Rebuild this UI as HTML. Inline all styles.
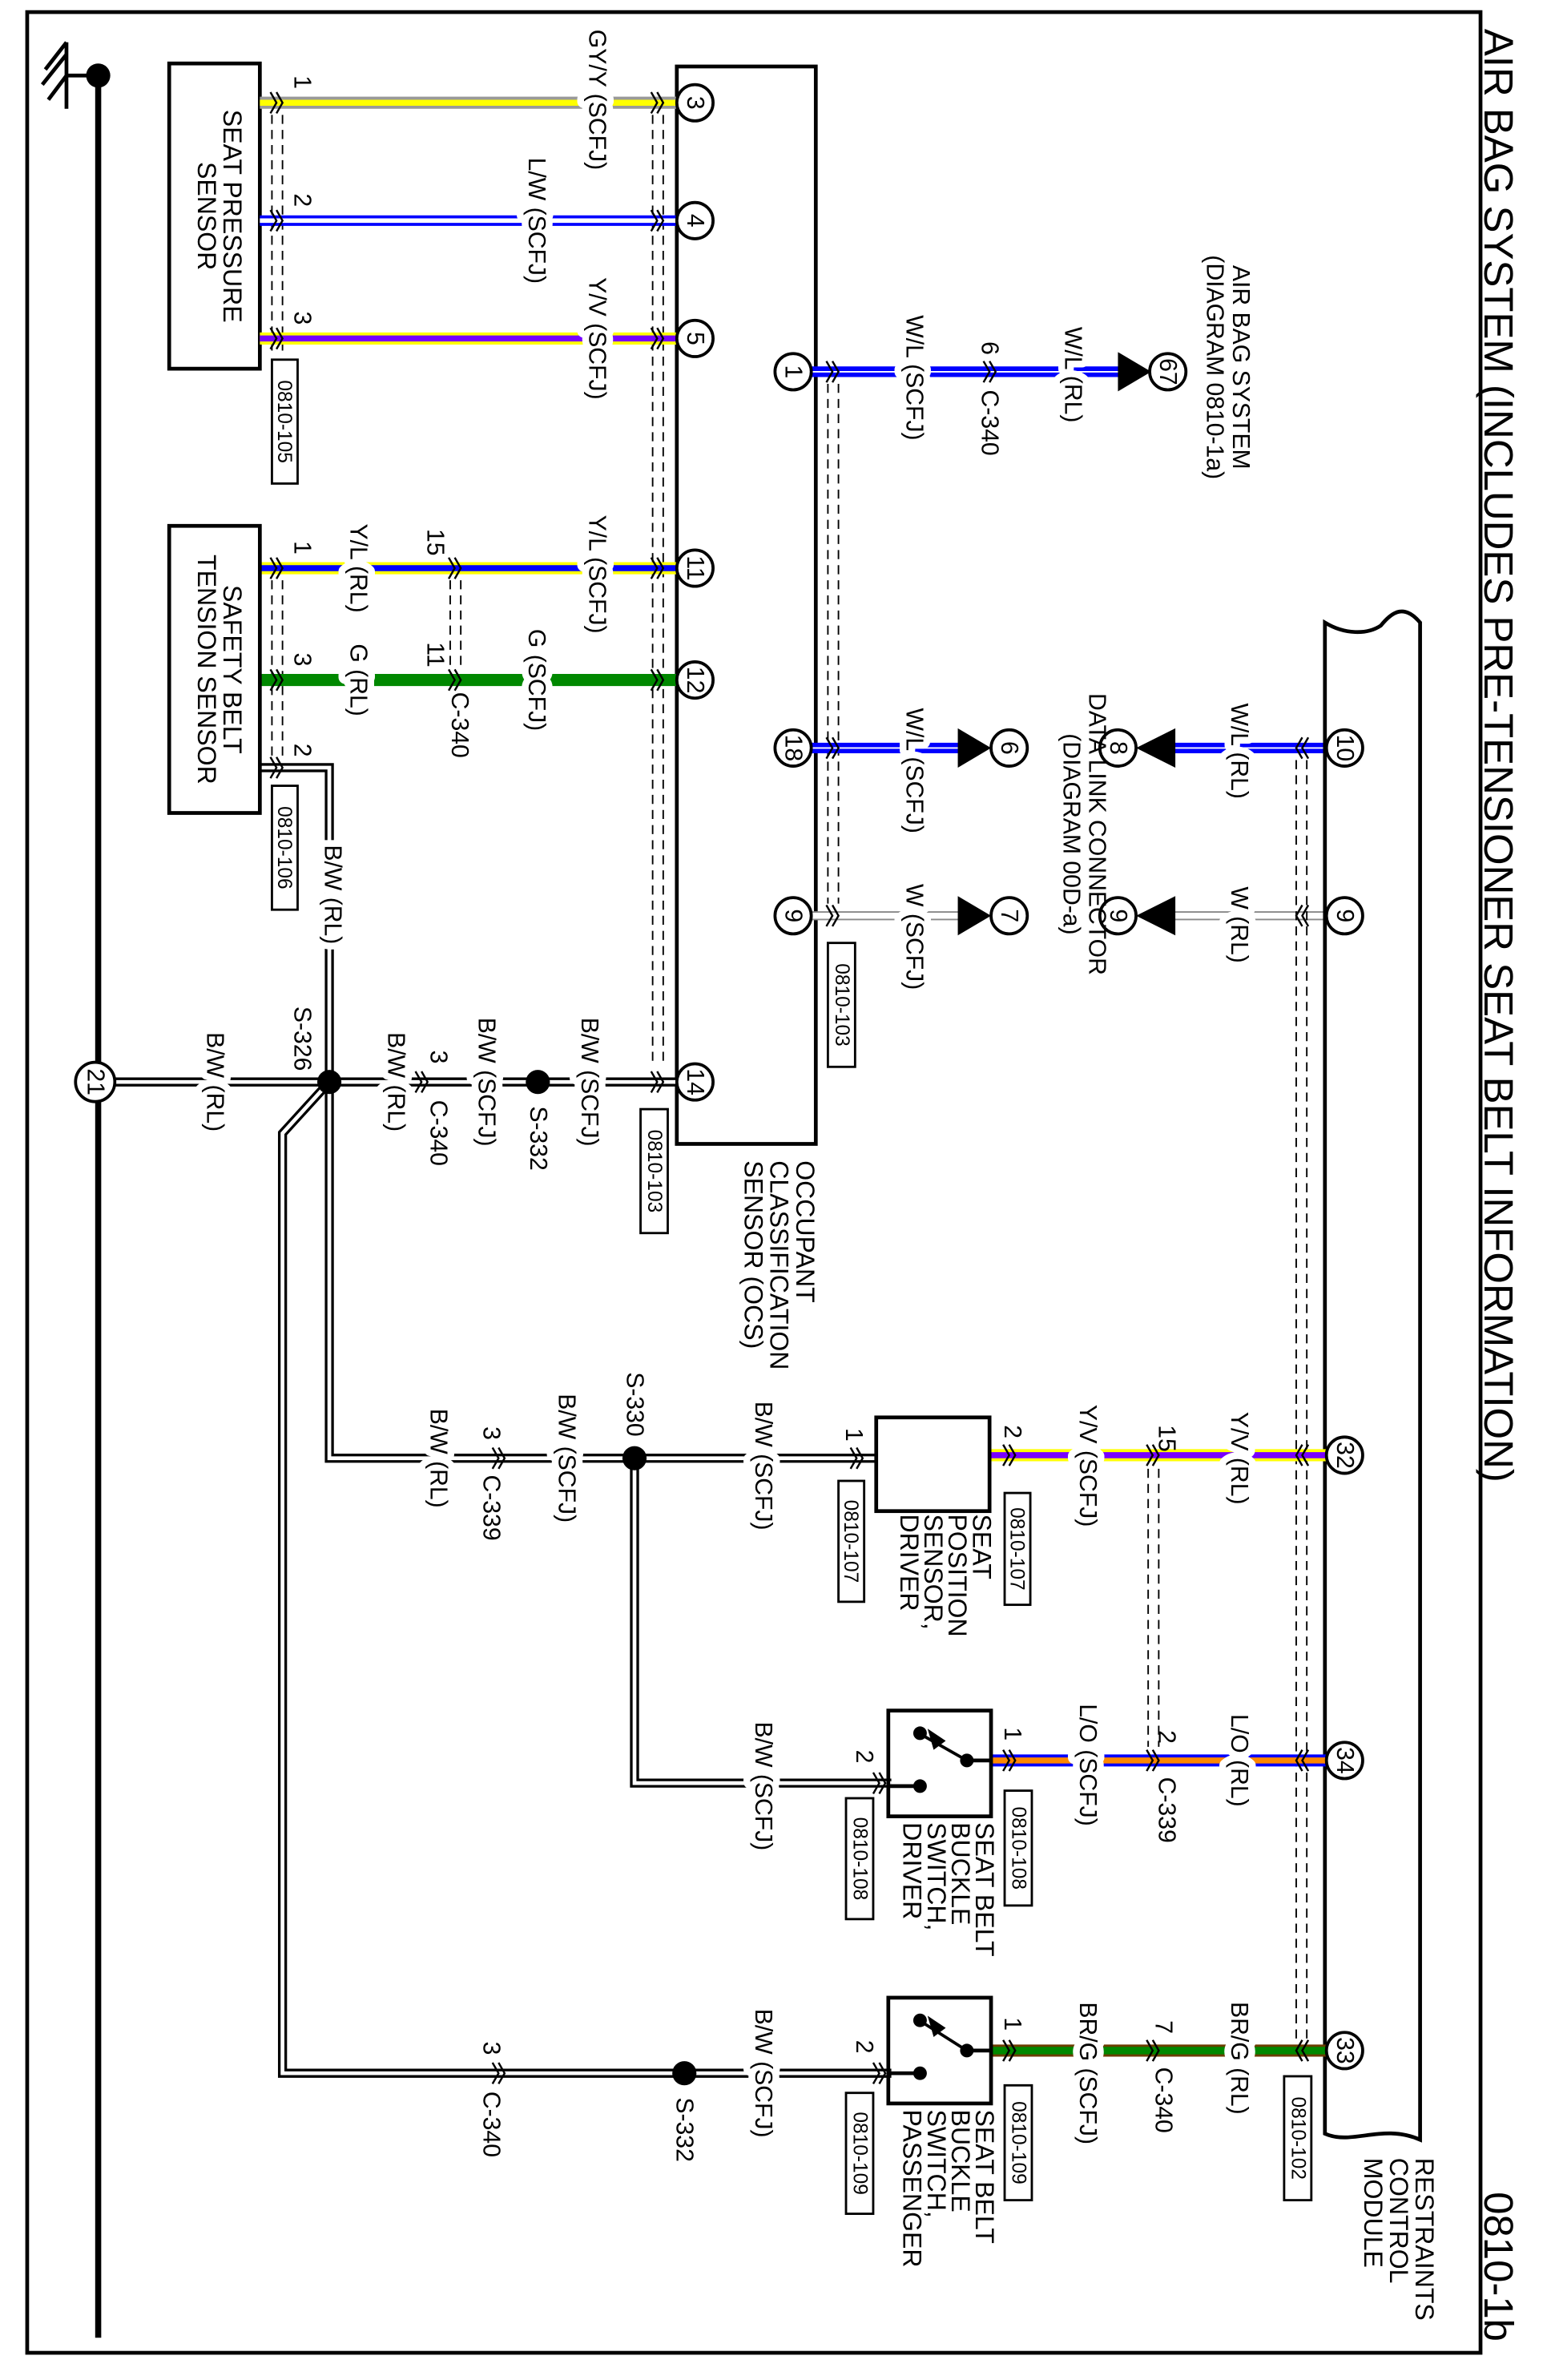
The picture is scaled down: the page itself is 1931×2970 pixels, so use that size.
<!DOCTYPE html>
<html><head><meta charset="utf-8"><style>
html,body{margin:0;padding:0;background:#fff}
svg{display:block}
text{font-family:"Liberation Sans",Arial,sans-serif;font-size:16px;fill:#000;paint-order:stroke;stroke:#fff;stroke-width:9px;stroke-linejoin:round}
.t{font-size:27px}
.c{font-size:13px;stroke:none}
.bx{fill:none;stroke:#000;stroke-width:2.5}
.sh{stroke:#000;stroke-width:1;stroke-dasharray:6,4;fill:none}
.ch{fill:none;stroke:#000;stroke-width:1.3}
</style></head><body>
<svg width="1931" height="2970" viewBox="0 0 1024 1575" preserveAspectRatio="none" xmlns="http://www.w3.org/2000/svg">
<defs>
<g id="cx"><polyline class="ch" points="-4,-7 0,0 -4,7"/><polyline class="ch" points="0,-7 4,0 0,7"/></g>
<g id="cxl"><polyline class="ch" points="4,-7 0,0 4,7"/><polyline class="ch" points="0,-7 -4,0 0,7"/></g>
</defs>
<rect x="18" y="8" width="962" height="1549" fill="none" stroke="#000" stroke-width="2.5"/>
<text class="t" transform="translate(992,500) rotate(90)" text-anchor="middle" dominant-baseline="central" style="stroke:none">AIR BAG SYSTEM (INCLUDES PRE-TENSIONER SEAT BELT INFORMATION)</text>
<text class="t" transform="translate(992,1500) rotate(90)" text-anchor="middle" dominant-baseline="central" style="stroke:none">0810-1b</text>

<line x1="65" y1="50" x2="65" y2="1547" stroke="#000" stroke-width="4"/>
<line x1="44" y1="50" x2="65" y2="50" stroke="#000" stroke-width="2.5"/>
<circle cx="65" cy="50" r="8"/>
<line x1="44" y1="28" x2="44" y2="72" stroke="#000" stroke-width="2.5"/>
<line x1="44" y1="36" x2="28" y2="56" stroke="#000" stroke-width="2.5"/>
<line x1="44" y1="50" x2="32" y2="66" stroke="#000" stroke-width="2.5"/>
<line x1="44" y1="28" x2="30" y2="46" stroke="#000" stroke-width="2.5"/>

<rect class="bx" x="112" y="42" width="60" height="202"/>
<text style="stroke:none;font-size:17px" transform="translate(142,143) rotate(90)" text-anchor="middle"><tspan x="0" y="-6">SEAT PRESSURE</tspan><tspan x="0" y="11">SENSOR</tspan></text>
<rect class="bx" style="stroke-width:1.5" x="180" y="238" width="17" height="82"/>
<text class="c" transform="translate(188,279) rotate(90)" text-anchor="middle" dominant-baseline="central">0810-105</text>

<rect class="bx" x="448" y="44" width="92" height="713"/>
<text style="stroke:none;font-size:17px" transform="translate(505,768) rotate(90)"><tspan x="0" y="-22">OCCUPANT</tspan><tspan x="0" y="-5">CLASSIFICATION</tspan><tspan x="0" y="12">SENSOR (OCS)</tspan></text>
<line class="sh" x1="432" y1="76" x2="432" y2="706"/><line class="sh" x1="439" y1="76" x2="439" y2="706"/>
<line class="sh" x1="180" y1="76" x2="180" y2="234"/><line class="sh" x1="187" y1="76" x2="187" y2="234"/>
<line class="sh" x1="180" y1="384" x2="180" y2="500"/><line class="sh" x1="187" y1="384" x2="187" y2="500"/>
<line class="sh" x1="298" y1="384" x2="298" y2="443"/><line class="sh" x1="305" y1="384" x2="305" y2="443"/>
<line class="sh" x1="548" y1="254" x2="548" y2="598"/><line class="sh" x1="555" y1="254" x2="555" y2="598"/>
<rect class="bx" style="stroke-width:1.5" x="548" y="624" width="18" height="82"/>
<text class="c" transform="translate(557,665) rotate(90)" text-anchor="middle" dominant-baseline="central">0810-103</text>
<rect class="bx" style="stroke-width:1.5" x="424" y="734" width="18" height="82"/>
<text class="c" transform="translate(433,775) rotate(90)" text-anchor="middle" dominant-baseline="central">0810-103</text>

<line x1="172" y1="68" x2="448" y2="68" stroke="#999" stroke-width="8"/><line x1="172" y1="68" x2="448" y2="68" stroke="#ff0" stroke-width="4"/>
<line x1="172" y1="146" x2="448" y2="146" stroke="#00f" stroke-width="7"/><line x1="172" y1="146" x2="448" y2="146" stroke="#fff" stroke-width="3"/>
<line x1="172" y1="224" x2="448" y2="224" stroke="#ff0" stroke-width="8"/><line x1="172" y1="224" x2="448" y2="224" stroke="#70f" stroke-width="4"/>
<line x1="172" y1="376" x2="448" y2="376" stroke="#ff0" stroke-width="8"/><line x1="172" y1="376" x2="448" y2="376" stroke="#00f" stroke-width="4"/>
<line x1="172" y1="450" x2="448" y2="450" stroke="#080" stroke-width="8"/>
<g fill="none" stroke-linejoin="miter">
<path d="M172,508 H218 V965 H580" stroke="#000" stroke-width="6"/>
<path d="M172,508 H218 V965 H580" stroke="#fff" stroke-width="2.5"/>
<path d="M63,716 H448" stroke="#000" stroke-width="6"/><path d="M63,716 H448" stroke="#fff" stroke-width="2.5"/>
<path d="M218,716 L187,750 V1372 H590" stroke="#000" stroke-width="6"/><path d="M218,716 L187,750 V1372 H590" stroke="#fff" stroke-width="2.5"/>
<path d="M420,965 V1180 H590" stroke="#000" stroke-width="6"/><path d="M420,965 V1180 H590" stroke="#fff" stroke-width="2.5"/>
</g>
<circle cx="218" cy="716" r="8"/><circle cx="356" cy="716" r="8"/><circle cx="420" cy="965" r="8"/><circle cx="453" cy="1372" r="8"/>

<line x1="536" y1="246" x2="748" y2="246" stroke="#00f" stroke-width="7"/><line x1="536" y1="246" x2="748" y2="246" stroke="#fff" stroke-width="1"/>
<line x1="536" y1="495" x2="640" y2="495" stroke="#00f" stroke-width="7"/><line x1="536" y1="495" x2="640" y2="495" stroke="#fff" stroke-width="1"/>
<line x1="775" y1="495" x2="878" y2="495" stroke="#00f" stroke-width="7"/><line x1="775" y1="495" x2="878" y2="495" stroke="#fff" stroke-width="1"/>
<line x1="536" y1="606" x2="640" y2="606" stroke="#888" stroke-width="6"/><line x1="536" y1="606" x2="640" y2="606" stroke="#fff" stroke-width="4"/>
<line x1="775" y1="606" x2="878" y2="606" stroke="#888" stroke-width="6"/><line x1="775" y1="606" x2="878" y2="606" stroke="#fff" stroke-width="4"/>
<polygon points="740,233 740,259 762,246"/><polygon points="634,482 634,508 656,495"/><polygon points="634,593 634,619 656,606"/>
<polygon points="778,482 778,508 752,495"/><polygon points="778,593 778,619 752,606"/>

<path class="bx" d="M877,418 V1412 C895,1420 915,1405 940,1416 V412 C930,400 922,404 914,414 C905,420 890,420 877,412 Z"/>
<text style="stroke:none;font-size:17px" transform="translate(915,1428) rotate(90)"><tspan x="0" y="-22">RESTRAINTS</tspan><tspan x="0" y="-5">CONTROL</tspan><tspan x="0" y="12">MODULE</tspan></text>
<line class="sh" x1="858" y1="503" x2="858" y2="1350"/><line class="sh" x1="865" y1="503" x2="865" y2="1350"/>
<line class="sh" x1="760" y1="972" x2="760" y2="1156"/><line class="sh" x1="767" y1="972" x2="767" y2="1156"/>
<rect class="bx" style="stroke-width:1.5" x="850" y="1374" width="18" height="82"/>
<text class="c" transform="translate(859,1415) rotate(90)" text-anchor="middle" dominant-baseline="central">0810-102</text>

<line x1="655" y1="963" x2="878" y2="963" stroke="#ff0" stroke-width="8"/><line x1="655" y1="963" x2="878" y2="963" stroke="#70f" stroke-width="4"/>
<line x1="656" y1="1165" x2="878" y2="1165" stroke="#00f" stroke-width="8"/><line x1="656" y1="1165" x2="878" y2="1165" stroke="#f80" stroke-width="4"/>
<line x1="656" y1="1357" x2="878" y2="1357" stroke="#6b3d00" stroke-width="8"/><line x1="656" y1="1357" x2="878" y2="1357" stroke="#080" stroke-width="5"/>

<rect class="bx" x="580" y="938" width="75" height="62"/>
<text style="stroke:none;font-size:17px" transform="translate(620,1002) rotate(90)"><tspan x="0" y="-24">SEAT</tspan><tspan x="0" y="-8">POSITION</tspan><tspan x="0" y="8">SENSOR,</tspan><tspan x="0" y="24">DRIVER</tspan></text>
<rect class="bx" style="stroke-width:1.5" x="665" y="988" width="17" height="74"/><text class="c" transform="translate(673,1025) rotate(90)" text-anchor="middle" dominant-baseline="central">0810-107</text>
<rect class="bx" style="stroke-width:1.5" x="555" y="980" width="17" height="80"/><text class="c" transform="translate(563,1020) rotate(90)" text-anchor="middle" dominant-baseline="central">0810-107</text>

<rect class="bx" x="588" y="1132" width="68" height="70"/>
<line x1="656" y1="1165" x2="640" y2="1165" stroke="#000" stroke-width="2.5"/><circle cx="640" cy="1165" r="4.5"/>
<line x1="640" y1="1165" x2="610" y2="1148" stroke="#000" stroke-width="2"/><circle cx="609" cy="1147" r="4.5"/><polygon points="614,1144 626,1152 618,1158"/>
<circle cx="609" cy="1182" r="4.5"/><line x1="588" y1="1182" x2="609" y2="1182" stroke="#000" stroke-width="2.5"/>
<text style="stroke:none;font-size:17px" transform="translate(622,1206) rotate(90)"><tspan x="0" y="-24">SEAT BELT</tspan><tspan x="0" y="-8">BUCKLE</tspan><tspan x="0" y="8">SWITCH,</tspan><tspan x="0" y="24">DRIVER</tspan></text>
<rect class="bx" style="stroke-width:1.5" x="665" y="1185" width="18" height="76"/><text class="c" transform="translate(674,1223) rotate(90)" text-anchor="middle" dominant-baseline="central">0810-108</text>
<rect class="bx" style="stroke-width:1.5" x="560" y="1190" width="18" height="80"/><text class="c" transform="translate(569,1230) rotate(90)" text-anchor="middle" dominant-baseline="central">0810-108</text>

<rect class="bx" x="588" y="1322" width="68" height="70"/>
<line x1="656" y1="1357" x2="640" y2="1357" stroke="#000" stroke-width="2.5"/><circle cx="640" cy="1357" r="4.5"/>
<line x1="640" y1="1357" x2="610" y2="1338" stroke="#000" stroke-width="2"/><circle cx="609" cy="1337" r="4.5"/><polygon points="614,1334 626,1342 618,1348"/>
<circle cx="609" cy="1372" r="4.5"/><line x1="588" y1="1372" x2="609" y2="1372" stroke="#000" stroke-width="2.5"/>
<text style="stroke:none;font-size:17px" transform="translate(622,1396) rotate(90)"><tspan x="0" y="-24">SEAT BELT</tspan><tspan x="0" y="-8">BUCKLE</tspan><tspan x="0" y="8">SWITCH,</tspan><tspan x="0" y="24">PASSENGER</tspan></text>
<rect class="bx" style="stroke-width:1.5" x="665" y="1380" width="18" height="76"/><text class="c" transform="translate(674,1418) rotate(90)" text-anchor="middle" dominant-baseline="central">0810-109</text>
<rect class="bx" style="stroke-width:1.5" x="560" y="1385" width="18" height="80"/><text class="c" transform="translate(569,1425) rotate(90)" text-anchor="middle" dominant-baseline="central">0810-109</text>

<rect class="bx" style="stroke-width:1.5" x="180" y="520" width="17" height="82"/>
<text class="c" transform="translate(188,561) rotate(90)" text-anchor="middle" dominant-baseline="central">0810-106</text>
<rect class="bx" x="112" y="348" width="60" height="190"/>
<text style="stroke:none;font-size:17px" transform="translate(142,443) rotate(90)" text-anchor="middle"><tspan x="0" y="-6">SAFETY BELT</tspan><tspan x="0" y="11">TENSION SENSOR</tspan></text>

<g>
<use href="#cx" x="183" y="68"/><use href="#cx" x="183" y="146"/><use href="#cx" x="183" y="224"/>
<use href="#cx" x="183" y="376"/><use href="#cx" x="183" y="450"/><use href="#cx" x="183" y="508"/>
<use href="#cx" x="435" y="68"/><use href="#cx" x="435" y="146"/><use href="#cx" x="435" y="224"/>
<use href="#cx" x="435" y="376"/><use href="#cx" x="435" y="450"/><use href="#cx" x="435" y="716"/>
<use href="#cx" x="301" y="376"/><use href="#cx" x="301" y="450"/><use href="#cx" x="279" y="716"/>
<use href="#cx" x="551" y="246"/><use href="#cx" x="551" y="495"/><use href="#cx" x="551" y="606"/>
<use href="#cx" x="655" y="246"/>
<use href="#cxl" x="862" y="495"/><use href="#cxl" x="862" y="606"/><use href="#cxl" x="862" y="963"/><use href="#cxl" x="862" y="1165"/><use href="#cxl" x="862" y="1357"/>
<use href="#cx" x="763" y="963"/><use href="#cx" x="763" y="1165"/><use href="#cx" x="763" y="1357"/>
<use href="#cx" x="668" y="963"/><use href="#cx" x="668" y="1165"/><use href="#cx" x="668" y="1357"/>
<use href="#cx" x="567" y="965"/><use href="#cx" x="582" y="1180"/><use href="#cx" x="582" y="1372"/>
<use href="#cx" x="330" y="965"/><use href="#cx" x="330" y="1372"/>
</g>

<g fill="#fff" stroke="#000" stroke-width="2">
<circle cx="460" cy="68" r="12"/><circle cx="460" cy="146" r="12"/><circle cx="460" cy="224" r="12"/>
<circle cx="460" cy="376" r="12"/><circle cx="460" cy="450" r="12"/><circle cx="460" cy="716" r="12"/>
<circle cx="525" cy="246" r="12"/><circle cx="525" cy="495" r="12"/><circle cx="525" cy="606" r="12"/>
<circle cx="63" cy="716" r="13"/>
<circle cx="773" cy="246" r="12"/><circle cx="668" cy="495" r="12"/><circle cx="668" cy="606" r="12"/>
<circle cx="740" cy="495" r="12"/><circle cx="740" cy="606" r="12"/>
<circle cx="890" cy="495" r="12"/><circle cx="890" cy="606" r="12"/><circle cx="890" cy="963" r="12"/><circle cx="890" cy="1165" r="12"/><circle cx="890" cy="1357" r="12"/>
</g>
<g style="font-size:14px">
<text style="stroke:none" transform="translate(460,68) rotate(90)" text-anchor="middle" dominant-baseline="central">3</text>
<text style="stroke:none" transform="translate(460,146) rotate(90)" text-anchor="middle" dominant-baseline="central">4</text>
<text style="stroke:none" transform="translate(460,224) rotate(90)" text-anchor="middle" dominant-baseline="central">5</text>
<text style="stroke:none" transform="translate(460,376) rotate(90)" text-anchor="middle" dominant-baseline="central">11</text>
<text style="stroke:none" transform="translate(460,450) rotate(90)" text-anchor="middle" dominant-baseline="central">12</text>
<text style="stroke:none" transform="translate(460,716) rotate(90)" text-anchor="middle" dominant-baseline="central">14</text>
<text style="stroke:none" transform="translate(525,246) rotate(90)" text-anchor="middle" dominant-baseline="central">1</text>
<text style="stroke:none" transform="translate(525,495) rotate(90)" text-anchor="middle" dominant-baseline="central">18</text>
<text style="stroke:none" transform="translate(525,606) rotate(90)" text-anchor="middle" dominant-baseline="central">9</text>
<text style="stroke:none" transform="translate(63,716) rotate(90)" text-anchor="middle" dominant-baseline="central">21</text>
<text style="stroke:none" transform="translate(773,246) rotate(90)" text-anchor="middle" dominant-baseline="central">67</text>
<text style="stroke:none" transform="translate(668,495) rotate(90)" text-anchor="middle" dominant-baseline="central">6</text>
<text style="stroke:none" transform="translate(668,606) rotate(90)" text-anchor="middle" dominant-baseline="central">7</text>
<text style="stroke:none" transform="translate(740,495) rotate(90)" text-anchor="middle" dominant-baseline="central">8</text>
<text style="stroke:none" transform="translate(740,606) rotate(90)" text-anchor="middle" dominant-baseline="central">9</text>
<text style="stroke:none" transform="translate(890,495) rotate(90)" text-anchor="middle" dominant-baseline="central">10</text>
<text style="stroke:none" transform="translate(890,606) rotate(90)" text-anchor="middle" dominant-baseline="central">9</text>
<text style="stroke:none" transform="translate(890,963) rotate(90)" text-anchor="middle" dominant-baseline="central">32</text>
<text style="stroke:none" transform="translate(890,1165) rotate(90)" text-anchor="middle" dominant-baseline="central">34</text>
<text style="stroke:none" transform="translate(890,1357) rotate(90)" text-anchor="middle" dominant-baseline="central">33</text>
</g>

<g text-anchor="middle" dominant-baseline="central">
<text transform="translate(395,66) rotate(90)">GY/Y (SCFJ)</text>
<text transform="translate(355,146) rotate(90)">L/W (SCFJ)</text>
<text transform="translate(395,224) rotate(90)">Y/V (SCFJ)</text>
<text transform="translate(237,376) rotate(90)">Y/L (RL)</text>
<text transform="translate(395,380) rotate(90)">Y/L (SCFJ)</text>
<text transform="translate(237,450) rotate(90)">G (RL)</text>
<text transform="translate(355,450) rotate(90)">G (SCFJ)</text>
<text transform="translate(220,592) rotate(90)">B/W (RL)</text>
<text transform="translate(142,716) rotate(90)">B/W (RL)</text>
<text transform="translate(262,716) rotate(90)">B/W (RL)</text>
<text transform="translate(322,716) rotate(90)">B/W (SCFJ)</text>
<text transform="translate(390,716) rotate(90)">B/W (SCFJ)</text>
<text transform="translate(290,965) rotate(90)">B/W (RL)</text>
<text transform="translate(375,965) rotate(90)">B/W (SCFJ)</text>
<text transform="translate(505,970) rotate(90)">B/W (SCFJ)</text>
<text transform="translate(505,1182) rotate(90)">B/W (SCFJ)</text>
<text transform="translate(505,1372) rotate(90)">B/W (SCFJ)</text>
<text transform="translate(605,250) rotate(90)">W/L (SCFJ)</text>
<text transform="translate(710,248) rotate(90)">W/L (RL)</text>
<text transform="translate(605,510) rotate(90)">W/L (SCFJ)</text>
<text transform="translate(820,497) rotate(90)">W/L (RL)</text>
<text transform="translate(605,620) rotate(90)">W (SCFJ)</text>
<text transform="translate(820,612) rotate(90)">W (RL)</text>
<text transform="translate(720,970) rotate(90)">Y/V (SCFJ)</text>
<text transform="translate(820,965) rotate(90)">Y/V (RL)</text>
<text transform="translate(720,1168) rotate(90)">L/O (SCFJ)</text>
<text transform="translate(820,1165) rotate(90)">L/O (RL)</text>
<text transform="translate(720,1372) rotate(90)">BR/G (SCFJ)</text>
<text transform="translate(820,1362) rotate(90)">BR/G (RL)</text>
</g>
<g style="font-size:15px" dominant-baseline="central">
<text style="stroke:none" transform="translate(200,50) rotate(90)">1</text>
<text style="stroke:none" transform="translate(200,128) rotate(90)">2</text>
<text style="stroke:none" transform="translate(200,206) rotate(90)">3</text>
<text style="stroke:none" transform="translate(200,358) rotate(90)">1</text>
<text style="stroke:none" transform="translate(200,432) rotate(90)">3</text>
<text style="stroke:none" transform="translate(200,492) rotate(90)">2</text>
<text style="stroke:none" transform="translate(288,350) rotate(90)">15</text>
<text style="stroke:none" transform="translate(288,425) rotate(90)">11</text>
<text style="stroke:none" transform="translate(304,458) rotate(90)">C-340</text>
<text style="stroke:none" transform="translate(200,666) rotate(90)">S-326</text>
<text style="stroke:none" transform="translate(290,695) rotate(90)">3</text>
<text style="stroke:none" transform="translate(290,728) rotate(90)">C-340</text>
<text style="stroke:none" transform="translate(356,732) rotate(90)">S-332</text>
<text style="stroke:none" transform="translate(325,944) rotate(90)">3</text>
<text style="stroke:none" transform="translate(325,976) rotate(90)">C-339</text>
<text style="stroke:none" transform="translate(420,908) rotate(90)">S-330</text>
<text style="stroke:none" transform="translate(325,1351) rotate(90)">3</text>
<text style="stroke:none" transform="translate(325,1384) rotate(90)">C-340</text>
<text style="stroke:none" transform="translate(453,1388) rotate(90)">S-332</text>
<text style="stroke:none" transform="translate(565,945) rotate(90)">1</text>
<text style="stroke:none" transform="translate(572,1158) rotate(90)">2</text>
<text style="stroke:none" transform="translate(572,1350) rotate(90)">2</text>
<text style="stroke:none" transform="translate(670,943) rotate(90)">2</text>
<text style="stroke:none" transform="translate(670,1143) rotate(90)">1</text>
<text style="stroke:none" transform="translate(670,1335) rotate(90)">1</text>
<text style="stroke:none" transform="translate(772,943) rotate(90)">15</text>
<text style="stroke:none" transform="translate(772,1145) rotate(90)">2</text>
<text style="stroke:none" transform="translate(772,1176) rotate(90)">C-339</text>
<text style="stroke:none" transform="translate(770,1337) rotate(90)">7</text>
<text style="stroke:none" transform="translate(770,1368) rotate(90)">C-340</text>
<text style="stroke:none" transform="translate(655,226) rotate(90)">6</text>
<text style="stroke:none" transform="translate(655,258) rotate(90)">C-340</text>
</g>
<g style="font-size:16px" text-anchor="middle">
<text style="stroke:none" transform="translate(810,243) rotate(90)"><tspan x="0" y="-6">AIR BAG SYSTEM</tspan><tspan x="0" y="11">(DIAGRAM 0810-1a)</tspan></text>
<text style="stroke:none" transform="translate(715,552) rotate(90)"><tspan x="0" y="-6">DATA LINK CONNECTOR</tspan><tspan x="0" y="11">(DIAGRAM 00D-a)</tspan></text>
</g>
</svg>
</body></html>
